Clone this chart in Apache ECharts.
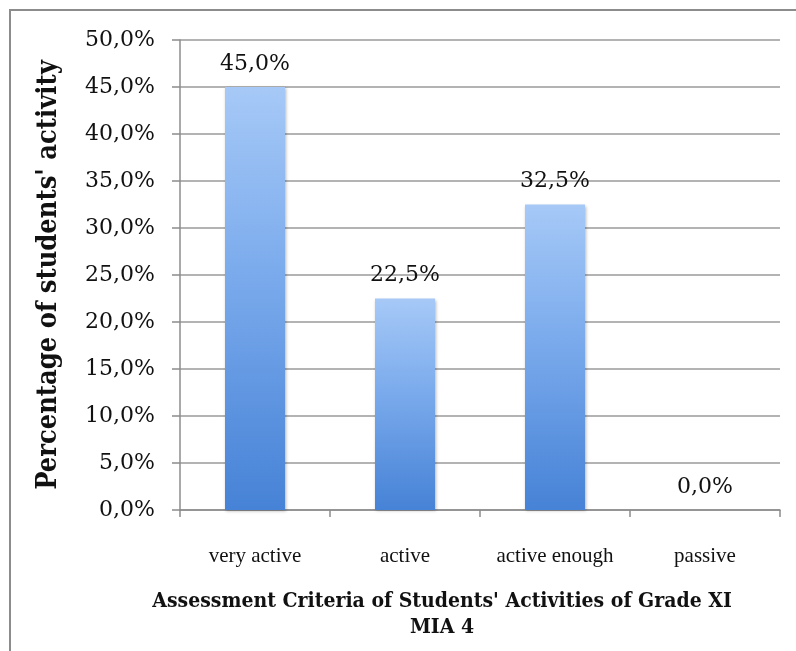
<!DOCTYPE html>
<html>
<head>
<meta charset="utf-8">
<script src="https://cdn.jsdelivr.net/npm/echarts@6/dist/echarts.min.js"></script>
<style>
html,body{margin:0;padding:0;background:#fff;}
#chart{width:796px;height:651px;}
</style>
</head>
<body>
<div id="chart"></div>
<script>
var categories = ['very active', 'active', 'active enough', 'passive'];
var values = [45.0, 22.5, 32.5, 0.0];
var yTicks = [0, 5, 10, 15, 20, 25, 30, 35, 40, 45, 50];

function pct(v) { return v.toFixed(1).replace('.', ',') + '%'; }

var chart = echarts.init(document.getElementById('chart'));
chart.setOption({
  backgroundColor: '#ffffff',
  animation: false,
  graphic: [{
    type: 'rect',
    shape: { x: 10, y: 10, width: 900, height: 900 },
    style: { fill: 'none', stroke: '#8c8c8c', lineWidth: 2 },
    z: -1
  }],
  title: {
    text: "Assessment Criteria of Students' Activities of Grade XI\nMIA 4",
    left: 437,
    top: 584,
    textAlign: 'center',
    textStyle: {
      fontFamily: 'DejaVu Serif Condensed',
      fontWeight: 'bold',
      fontSize: 21,
      lineHeight: 26,
      color: '#111'
    }
  },
  grid: { left: 180, right: 16, top: 40, bottom: 141, containLabel: false },
  xAxis: {
    type: 'category',
    data: categories,
    axisLine: { show: true, lineStyle: { color: '#8c8c8c', width: 1.5 } },
    axisTick: { show: true, length: 7, lineStyle: { color: '#8c8c8c', width: 1.5 } },
    axisLabel: {
      interval: 0,
      margin: 36,
      fontFamily: 'Liberation Serif',
      fontSize: 21,
      color: '#111'
    }
  },
  yAxis: {
    type: 'value',
    min: yTicks[0],
    max: yTicks[yTicks.length - 1],
    interval: 5,
    name: "Percentage of students' activity",
    nameLocation: 'middle',
    nameGap: 118,
    nameTextStyle: {
      fontFamily: 'DejaVu Serif Condensed',
      fontWeight: 'bold',
      fontSize: 27,
      color: '#111'
    },
    axisLine: { show: true, lineStyle: { color: '#8c8c8c', width: 1.5 } },
    axisTick: { show: true, length: 8, lineStyle: { color: '#8c8c8c', width: 1.5 } },
    splitLine: { show: true, lineStyle: { color: '#9a9a9a', width: 1.5 } },
    axisLabel: {
      margin: 25,
      fontFamily: 'DejaVu Serif',
      fontSize: 22,
      color: '#111',
      formatter: function (v) { return pct(v); }
    }
  },
  series: [{
    type: 'bar',
    data: values,
    barWidth: 60,
    itemStyle: {
      color: new echarts.graphic.LinearGradient(0, 0, 0, 1, [
        { offset: 0, color: '#a6c9f7' },
        { offset: 0.45, color: '#7aaaec' },
        { offset: 1, color: '#4682d6' }
      ]),
      borderWidth: 0,
      shadowColor: 'rgba(0,0,0,0.3)',
      shadowBlur: 3,
      shadowOffsetX: 1,
      shadowOffsetY: 1
    },
    label: {
      show: true,
      position: 'top',
      distance: 12,
      fontFamily: 'DejaVu Serif',
      fontSize: 22,
      color: '#111',
      formatter: function (p) { return pct(p.value); }
    }
  }]
});
</script>
</body>
</html>
